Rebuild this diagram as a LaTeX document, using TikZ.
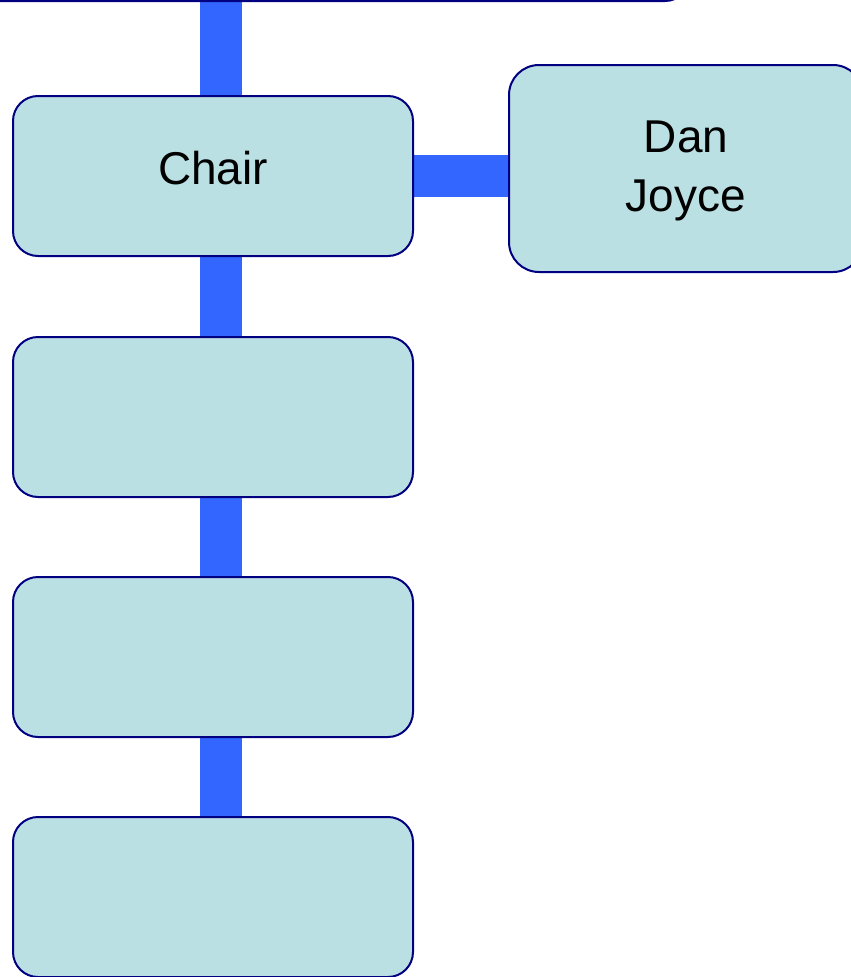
\documentclass[tikz,border=0pt]{standalone}
\usepackage{fontspec}
\setmainfont{Liberation Sans}
\usetikzlibrary{backgrounds}
\definecolor{boxfill}{HTML}{BBE0E3}
\definecolor{boxline}{HTML}{000080}
\definecolor{connblue}{HTML}{3366FF}
\begin{document}
\begin{tikzpicture}[x=1pt,y=-1pt,
  orgbox/.style={draw=boxline, fill=boxfill, line width=2pt, rounded corners=25pt,
    minimum width=400pt, minimum height=160pt, inner sep=0pt, outer sep=0pt,
    font=\fontsize{46}{59}\selectfont, text height=33pt, text depth=17pt},
  conn/.style={draw=connblue, line width=42pt}]
\useasboundingbox (0,0) rectangle (851,977);
\clip (0,0) rectangle (851,977);
\node[orgbox, minimum width=990pt, minimum height=201pt] (top) at (195,-99.5) {};
\node[orgbox] (chair) at (213,176) {Chair};
\node[orgbox, text height=0pt, text depth=0pt] (b2) at (213,417) {};
\node[orgbox, text height=0pt, text depth=0pt] (b3) at (213,657) {};
\node[orgbox, text height=0pt, text depth=0pt] (b4) at (213,897) {};
\node[orgbox, rounded corners=30pt, minimum width=354pt, minimum height=207pt,
  align=center, text height=100pt, text depth=14pt] (dan) at (686,168.5) {Dan\\Joyce};
\coordinate (v) at (221,0);
\begin{scope}[on background layer]
\draw[conn] (v |- top.south) -- (v |- chair.north);
\draw[conn] (v |- chair.south) -- (v |- b2.north);
\draw[conn] (v |- b2.south) -- (v |- b3.north);
\draw[conn] (v |- b3.south) -- (v |- b4.north);
\draw[conn] (chair.east) -- (chair.east -| dan.west);
\end{scope}
\end{tikzpicture}
\end{document}
